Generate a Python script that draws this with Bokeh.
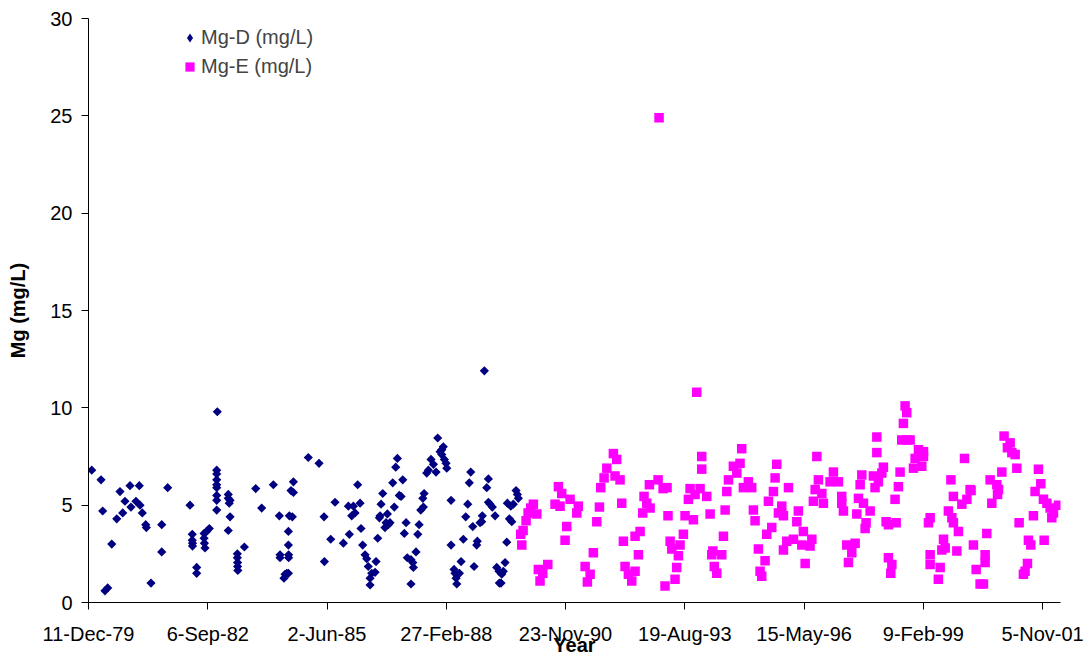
from bokeh.plotting import figure
from bokeh.models import Range1d, FixedTicker, Legend, LegendItem
from bokeh.embed import file_html
from bokeh.resources import INLINE
import numpy as np

# dates are Excel day serials (29200 = 11-Dec-79)
mgd_day = [
    29227, 29305, 29319, 29338, 29361, 29395, 29437, 29464, 29487, 29506,
    29548, 29556, 29598, 29626, 29632, 29651, 29680, 29685, 29724, 29814,
    29814, 29864, 30051, 30070, 30070, 30072, 30072, 30107, 30107, 30169,
    30169, 30172, 30177, 30191, 30213, 30275, 30275, 30275, 30275, 30275,
    30275, 30275, 30275, 30280, 30372, 30372, 30380, 30387, 30387, 30372,
    30448, 30448, 30450, 30450, 30452, 30507, 30602, 30652, 30750, 30800,
    30806, 30806, 30839, 30848, 30862, 30876, 30876, 30876, 30878, 30878,
    30884, 30909, 30898, 30918, 30918, 31043, 31133, 31175, 31178, 31231,
    31267, 31337, 31379, 31387, 31421, 31435, 31407, 31457, 31477, 31485,
    31499, 31519, 31533, 31546, 31561, 31561, 31575, 31603, 31611, 31625,
    31645, 31653, 31667, 31639, 31695, 31686, 31714, 31706, 31728, 31751,
    31764, 31776, 31790, 31806, 31821, 31835, 31848, 31863, 31873, 31904,
    31919, 31924, 31946, 31904, 31961, 31972, 31986, 32008, 32003, 32014,
    32036, 32050, 32072, 32092, 32114, 32128, 32148, 32162, 32175, 32162,
    32184, 32198, 32204, 32240, 32240, 32265, 32273, 32282, 32288, 32310,
    32324, 32343, 32363, 32380, 32393, 32405, 32422, 32433, 32455, 32460,
    32483, 32502, 32497, 32519, 32539, 32553, 32553, 32567, 32586, 32609,
    32623, 32642, 32659, 32665, 32678, 32693, 32645, 32707, 32712, 32741,
    32762, 32729, 32749, 32785, 32796, 32804,
]
mgd_val = [
    6.8, 6.3, 4.7, 0.6, 0.75, 3.0, 4.3, 5.7, 4.6, 5.2,
    6.0, 4.9, 5.2, 6.0, 5.0, 4.6, 4.0, 3.85, 1.0, 4.0,
    2.6, 5.9, 5.0, 3.5, 3.2, 3.05, 2.9, 1.8, 1.5, 3.55,
    3.3, 3.05, 2.8, 3.65, 3.8, 6.8, 6.6, 6.3, 6.05, 5.9,
    5.5, 5.25, 4.75, 9.8, 5.55, 5.35, 5.1, 5.25, 4.4, 3.7,
    2.5, 2.3, 2.05, 1.85, 1.65, 2.85, 5.85, 4.85, 6.05, 4.45,
    2.45, 2.3, 1.25, 1.45, 1.5, 1.5, 2.95, 3.65, 2.45, 2.3,
    4.45, 4.4, 5.75, 5.65, 6.2, 7.45, 7.15, 4.4, 2.1, 3.25,
    5.15, 3.05, 4.95, 3.5, 4.95, 4.6, 4.45, 6.05, 5.1, 3.8,
    2.95, 2.45, 2.25, 1.85, 1.25, 0.9, 1.5, 1.55, 2.1, 3.3,
    4.45, 5.05, 5.6, 4.35, 4.1, 3.85, 4.0, 4.55, 4.1, 6.15,
    4.9, 6.95, 7.4, 5.5, 5.45, 6.3, 3.55, 4.1, 2.3, 2.2,
    2.05, 1.8, 2.6, 0.95, 3.5, 4.0, 4.75, 4.9, 5.35, 5.6,
    6.65, 6.8, 7.35, 7.1, 6.7, 8.45, 7.75, 7.85, 8.0, 7.6,
    7.35, 7.15, 6.9, 5.25, 2.95, 1.7, 1.5, 1.25, 0.95, 1.5,
    2.1, 3.25, 4.4, 5.05, 6.15, 6.7, 3.9, 1.85, 2.95, 3.15,
    4.1, 4.45, 4.15, 11.9, 5.9, 6.35, 5.15, 5.05, 4.9, 4.45,
    1.8, 1.6, 1.0, 1.45, 1.6, 2.05, 1.0, 3.1, 5.1, 4.95,
    5.05, 4.3, 4.15, 5.75, 5.55, 5.35,
]

mge_day = [
    32824, 32833, 32844, 32869, 32886, 32908, 32930, 32959, 32972, 32986,
    33009, 33051, 33112, 33140, 33154, 33168, 33196, 33210, 33238, 33294,
    33307, 33364, 33383, 33406, 33433, 33462, 33484, 33495, 33523, 33546,
    33601, 33615, 33629, 33657, 33671, 33685, 33699, 33727, 33755, 33783,
    33783, 33811, 33825, 33847, 33858, 33881, 33903, 33909, 33976, 33984,
    34018, 34034, 34051, 34059, 34077, 34091, 34118, 34132, 34146, 34160,
    34188, 34202, 34230, 34244, 34272, 34286, 34300, 34328, 34342, 34342,
    34384, 34412, 34426, 34435, 34447, 34468, 34510, 34524, 34538, 34552,
    34566, 34607, 34636, 34663, 34677, 34691, 34733, 34761, 34775, 34789,
    34817, 34831, 34845, 34873, 34887, 34901, 34929, 34943, 34957, 34971,
    34985, 35013, 35027, 35027, 35055, 35069, 35111, 35139, 35152, 35181,
    35194, 35209, 35250, 35265, 35278, 35293, 35307, 35320, 35349, 35362,
    35418, 35446, 35488, 35516, 35516, 35530, 35558, 35572, 35600, 35628,
    35642, 35656, 35670, 35684, 35698, 35712, 35720, 35754, 35781, 35795,
    35810, 35810, 35823, 35852, 35865, 35888, 35907, 35907, 35927, 35936,
    35963, 35972, 35991, 36005, 36019, 36033, 36047, 36061, 36061, 36089,
    36117, 36131, 36159, 36187, 36201, 36201, 36243, 36257, 36257, 36257,
    36326, 36341, 36355, 36369, 36383, 36410, 36431, 36439, 36452, 36452,
    36481, 36494, 36523, 36545, 36565, 36592, 36600, 36620, 36643, 36676,
    36704, 36718, 36718, 36732, 36760, 36774, 36816, 36822, 36830, 36858,
    36877, 36905, 36928, 36942, 36970, 36984, 37003, 37039, 37053, 37073,
    37081, 37101, 37123, 37137, 37165, 37185, 37207, 37213, 37236, 37263,
    37277, 37291, 37333,
]
mge_val = [
    3.5, 2.95, 3.7, 4.2, 4.6, 4.85, 5.05, 4.55, 1.7, 1.1,
    1.5, 1.95, 5.05, 5.95, 4.95, 5.6, 3.2, 3.9, 5.3, 4.6,
    4.95, 1.85, 1.05, 1.45, 2.55, 4.15, 4.9, 5.9, 6.4, 6.9,
    7.65, 6.5, 7.35, 6.3, 5.1, 3.15, 1.85, 1.45, 1.1, 1.6,
    3.4, 2.45, 3.65, 4.6, 5.45, 5.1, 6.05, 4.85, 6.3, 24.9,
    5.85, 0.85, 5.9, 4.45, 3.15, 2.75, 1.2, 1.8, 2.4, 2.95,
    3.5, 4.45, 5.3, 5.85, 4.25, 5.55, 10.8, 5.85, 6.85, 7.5,
    5.45, 4.55, 2.45, 2.65, 1.85, 1.5, 2.45, 3.4, 4.75, 5.7,
    6.3, 7.0, 6.65, 7.15, 7.9, 5.9, 6.2, 5.9, 4.75, 4.2,
    2.75, 1.6, 1.35, 2.15, 3.5, 5.2, 3.85, 5.7, 6.4, 7.1,
    4.6, 4.95, 2.7, 4.45, 3.15, 5.9, 3.25, 4.15, 4.7, 2.95,
    3.65, 2.0, 2.9, 3.25, 5.2, 5.8, 7.5, 6.3, 5.6, 5.1,
    6.2, 6.7, 6.2, 5.45, 5.1, 4.7, 2.95, 2.05, 2.55, 3.05,
    4.55, 5.35, 6.05, 6.55, 5.1, 3.8, 4.1, 4.7, 6.5, 5.9,
    7.7, 8.5, 6.2, 6.65, 6.95, 4.15, 4.0, 2.3, 1.5, 1.95,
    5.3, 4.1, 5.95, 6.7, 8.35, 9.2, 10.1, 9.75, 8.35, 8.35,
    6.9, 7.4, 7.85, 7.0, 7.75, 7.5, 4.1, 4.35, 2.45, 1.95,
    1.2, 1.8, 2.7, 3.25, 2.8, 4.7, 6.3, 4.35, 4.1, 5.45,
    2.65, 3.65, 5.05, 7.4, 5.3, 5.8, 5.75, 2.95, 1.7, 0.95,
    0.95, 2.45, 2.05, 3.55, 6.3, 5.1, 6.05, 5.55, 5.8, 6.7,
    8.55, 7.95, 8.2, 7.7, 7.6, 6.9, 4.1, 1.45, 1.6, 2.0,
    3.2, 2.95, 4.45, 5.7, 6.85, 6.1, 5.3, 3.2, 5.1, 4.85,
    4.35, 4.6, 5.0,
]

tick_days = [29200, 30200, 31200, 32200, 33200, 34200, 35200, 36200, 37200]
tick_labels = ["11-Dec-79", "6-Sep-82", "2-Jun-85", "27-Feb-88", "23-Nov-90",
               "19-Aug-93", "15-May-96", "9-Feb-99", "5-Nov-01"]
y_ticks = [0, 5, 10, 15, 20, 25, 30]

FONT = "Liberation Sans"
NAVY = "#000080"
MAGENTA = "#FF00FF"

p = figure(width=1086, height=658, output_backend="svg", toolbar_location=None,
           x_range=Range1d(29200, 37350), y_range=Range1d(0, 30),
           min_border_left=88, min_border_right=26,
           min_border_top=18, min_border_bottom=55)
p.outline_line_color = None
p.grid.grid_line_color = None

# diamonds: squares turned by 45 degrees
r_d = p.scatter(mgd_day, mgd_val, marker="square", angle=np.pi / 4, size=6.5,
                fill_color=NAVY, line_color=None)
r_e = p.scatter(mge_day, mge_val, marker="square", size=9.5,
                fill_color=MAGENTA, line_color=None)
# the legend ignores marker angle, so it gets a plain diamond key (draws nothing)
key_d = p.scatter([np.nan], [np.nan], marker="diamond", size=9,
                  fill_color=NAVY, line_color=None)

for ax in (p.xaxis[0], p.yaxis[0]):
    ax.axis_line_color = "black"
    ax.major_tick_line_color = "black"
    ax.major_tick_in = 0
    ax.major_tick_out = 7
    ax.minor_tick_line_color = None
    ax.major_label_text_font = FONT
    ax.major_label_text_font_size = "20px"
    ax.major_label_text_color = "black"
    ax.axis_label_text_font = FONT
    ax.axis_label_text_font_size = "20px"
    ax.axis_label_text_font_style = "bold"
    ax.axis_label_text_color = "black"

p.xaxis.ticker = FixedTicker(ticks=tick_days)
p.xaxis.major_label_overrides = dict(zip(tick_days, tick_labels))
p.xaxis.major_label_standoff = 13
p.xaxis.axis_label = "Year"
p.xaxis.axis_label_standoff = -14

p.yaxis.ticker = FixedTicker(ticks=y_ticks)
p.yaxis.major_label_standoff = 9
p.yaxis.axis_label = "Mg (mg/L)"
p.yaxis.axis_label_standoff = 18

legend = Legend(items=[LegendItem(label="Mg-D (mg/L)", renderers=[key_d]),
                       LegendItem(label="Mg-E (mg/L)", renderers=[r_e])],
                location=(90, 524), glyph_width=23, glyph_height=23,
                label_height=23, label_standoff=0, spacing=6, padding=0, margin=0,
                border_line_color=None, background_fill_alpha=0,
                label_text_font=FONT, label_text_font_size="20px")
p.add_layout(legend)

open("out.html", "w").write(file_html(p, INLINE))
